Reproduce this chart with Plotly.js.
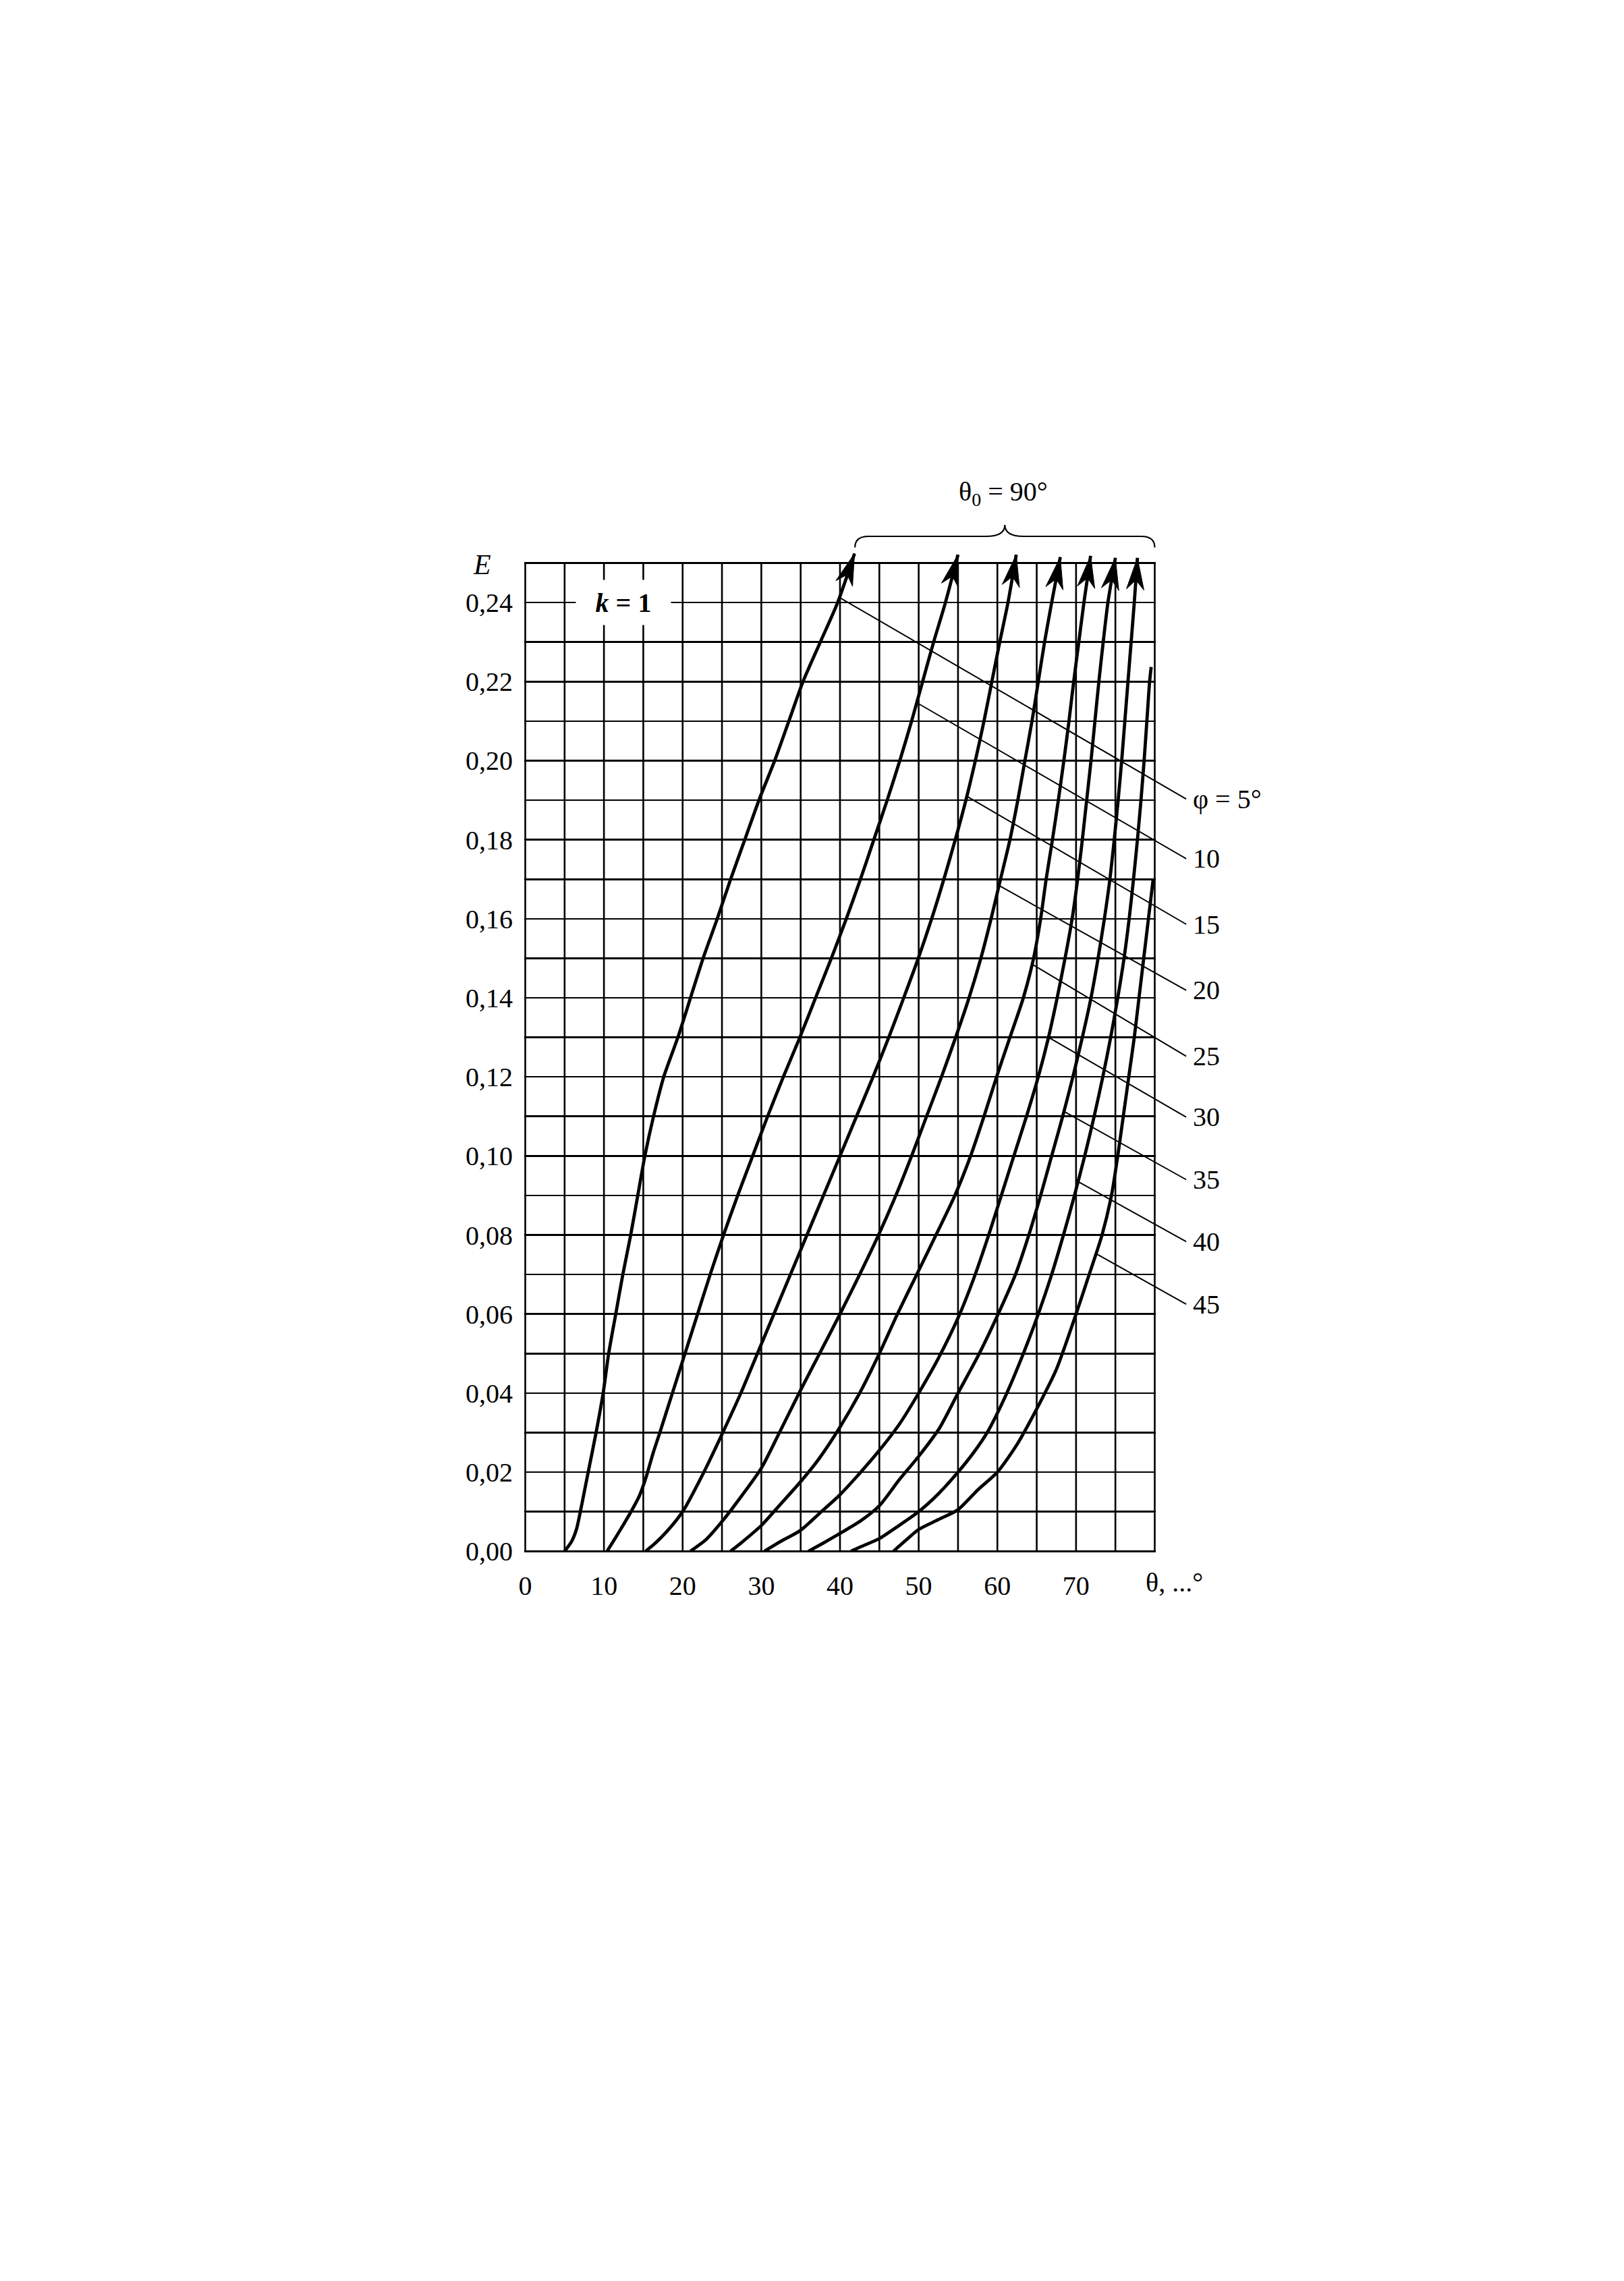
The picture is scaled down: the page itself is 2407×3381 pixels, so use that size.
<!DOCTYPE html>
<html>
<head>
<meta charset="utf-8">
<script src="https://cdn.plot.ly/plotly-3.0.1.min.js"></script>
<style>
  html, body { margin: 0; padding: 0; background: #fff; }
  #chart { width: 2407px; height: 3381px; }
</style>
</head>
<body>
<div id="chart"></div>
<script>
// E versus θ for k = 1, θ0 = 90°; one curve per angle φ

const phiLabels = ['φ = 5°', '10', '15', '20', '25', '30', '35', '40', '45'];

const theta5 = [5.0, 5.9, 6.5, 7.0, 7.5, 8.0, 9.0, 9.9, 10.6, 11.5, 12.4, 13.4, 14.3, 15.2, 16.3, 17.6, 19.4, 21.0, 22.6, 24.4, 26.1, 27.9, 29.7, 31.7, 33.5, 35.3, 37.5, 39.7, 41.85];
const e5     = [0, 0.0025, 0.0055, 0.010, 0.015, 0.020, 0.030, 0.040, 0.050, 0.060, 0.070, 0.080, 0.090, 0.100, 0.110, 0.120, 0.130, 0.140, 0.150, 0.160, 0.170, 0.180, 0.190, 0.200, 0.210, 0.220, 0.230, 0.240, 0.2524];

const theta10 = [10.4, 11.5, 12.5, 13.5, 14.5, 15.4, 16.2, 17.1, 18.7, 20.3, 21.9, 23.5, 25.2, 27.0, 28.9, 30.8, 32.8, 34.9, 36.9, 38.9, 40.8, 42.6, 44.3, 46.0, 47.6, 49.1, 50.5, 51.9, 53.4, 55.0];
const e10     = [0, 0.0035, 0.0068, 0.0102, 0.014, 0.019, 0.0245, 0.030, 0.040, 0.050, 0.060, 0.070, 0.080, 0.090, 0.100, 0.110, 0.120, 0.130, 0.140, 0.150, 0.160, 0.170, 0.180, 0.190, 0.200, 0.210, 0.220, 0.230, 0.240, 0.2521];

const theta15 = [15.3, 16.5, 18.0, 20.0, 22.7, 25.1, 27.4, 29.5, 31.6, 33.7, 35.8, 37.9, 40.0, 42.1, 44.2, 46.2, 48.1, 49.95, 51.65, 53.2, 54.65, 56.0, 57.2, 58.3, 59.3, 60.3, 61.35, 62.4];
const e15     = [0, 0.002, 0.005, 0.010, 0.020, 0.030, 0.040, 0.050, 0.060, 0.070, 0.080, 0.090, 0.100, 0.110, 0.120, 0.130, 0.140, 0.150, 0.160, 0.170, 0.180, 0.190, 0.200, 0.210, 0.220, 0.230, 0.240, 0.2521];

const theta20 = [21.0, 23.0, 25.0, 27.5, 30.0, 32.3, 34.8, 37.4, 40.0, 42.5, 44.9, 47.1, 49.1, 51.0, 52.9, 54.7, 56.4, 57.9, 59.2, 60.4, 61.6, 62.6, 63.5, 64.4, 65.2, 66.0, 66.9, 68.0];
const e20     = [0, 0.003, 0.0075, 0.014, 0.021, 0.030, 0.040, 0.050, 0.060, 0.070, 0.080, 0.090, 0.100, 0.110, 0.120, 0.130, 0.140, 0.150, 0.160, 0.170, 0.180, 0.190, 0.200, 0.210, 0.220, 0.230, 0.240, 0.2515];

const theta25 = [26.1, 27.5, 30.0, 32.4, 35.0, 37.3, 40.0, 42.5, 45.0, 47.3, 50.0, 52.2, 54.6, 56.6, 58.3, 59.9, 61.6, 63.3, 64.6, 65.5, 66.2, 67.0, 67.75, 68.45, 69.1, 69.7, 70.35, 71.0, 71.85];
const e25     = [0, 0.0022, 0.0065, 0.0118, 0.0176, 0.0233, 0.0314, 0.040, 0.050, 0.060, 0.071, 0.080, 0.090, 0.100, 0.110, 0.120, 0.130, 0.140, 0.150, 0.160, 0.170, 0.180, 0.190, 0.200, 0.210, 0.220, 0.230, 0.240, 0.2518];

const theta30 = [30.4, 32.4, 35.0, 37.3, 40.0, 42.5, 45.0, 47.5, 50.0, 52.5, 55.0, 57.0, 58.9, 60.5, 62.1, 63.7, 65.2, 66.5, 67.6, 68.6, 69.5, 70.2, 70.8, 71.35, 71.9, 72.4, 72.9, 73.45, 74.05, 75.0];
const e30     = [0, 0.0024, 0.0053, 0.0094, 0.0143, 0.0197, 0.0255, 0.032, 0.040, 0.0488, 0.059, 0.069, 0.080, 0.090, 0.100, 0.110, 0.120, 0.130, 0.140, 0.150, 0.160, 0.170, 0.180, 0.190, 0.200, 0.210, 0.220, 0.230, 0.240, 0.2513];

const theta35 = [36.0, 38.0, 40.0, 42.5, 45.0, 47.5, 50.0, 52.6, 55.0, 57.7, 60.1, 62.3, 64.0, 65.5, 66.9, 68.3, 69.6, 70.8, 71.9, 72.8, 73.6, 74.3, 74.85, 75.35, 75.8, 76.2, 76.6, 77.0, 77.4, 77.8];
const e35     = [0, 0.0022, 0.0045, 0.0075, 0.0115, 0.018, 0.024, 0.031, 0.040, 0.050, 0.060, 0.070, 0.080, 0.090, 0.100, 0.110, 0.120, 0.130, 0.140, 0.150, 0.160, 0.170, 0.180, 0.190, 0.200, 0.210, 0.220, 0.230, 0.240, 0.2513];

const theta40 = [41.4, 42.5, 45.0, 47.5, 50.0, 52.5, 55.0, 57.0, 58.7, 61.2, 63.3, 65.2, 66.9, 68.4, 69.8, 71.1, 72.3, 73.4, 74.4, 75.3, 76.1, 76.75, 77.3, 77.8, 78.25, 78.65, 79.0, 79.35, 79.55];
const e40     = [0, 0.001, 0.0032, 0.0065, 0.010, 0.0145, 0.020, 0.025, 0.030, 0.040, 0.050, 0.060, 0.070, 0.080, 0.090, 0.100, 0.110, 0.120, 0.130, 0.140, 0.150, 0.160, 0.170, 0.180, 0.190, 0.200, 0.210, 0.220, 0.2237];

const theta45 = [46.8, 48.5, 50.0, 52.5, 55.0, 57.5, 60.0, 62.5, 65.0, 67.5, 70.0, 71.5, 73.3, 74.5, 75.3, 76.0, 76.7, 77.4, 78.0, 78.6, 79.2, 79.8];
const e45     = [0, 0.003, 0.0055, 0.008, 0.0105, 0.0155, 0.020, 0.027, 0.036, 0.046, 0.060, 0.069, 0.080, 0.090, 0.100, 0.110, 0.120, 0.130, 0.140, 0.150, 0.160, 0.170];

// curves whose top end carries an arrow (they continue above the grid)
const hasArrow = [true, true, true, true, true, true, true, false, false];

// points on each curve where its label's leader line starts, and label heights
const leaderTheta = [39.9, 49.9, 56.1, 60.3, 64.4, 66.5, 68.5, 70.25, 72.6];
const leaderE     = [0.2413, 0.2145, 0.191, 0.1683, 0.1485, 0.130, 0.1112, 0.0935, 0.0752];
const labelE      = [0.1903, 0.1752, 0.1586, 0.1419, 0.1252, 0.1098, 0.0940, 0.0783, 0.0625];

// axis ticks
const thetaTickVals = [0, 10, 20, 30, 40, 50, 60, 70];
const thetaTickText = ['0', '10', '20', '30', '40', '50', '60', '70'];
const eTickVals = [0, 0.02, 0.04, 0.06, 0.08, 0.10, 0.12, 0.14, 0.16, 0.18, 0.20, 0.22, 0.24];
const eTickText = ['0,00', '0,02', '0,04', '0,06', '0,08', '0,10', '0,12', '0,14', '0,16', '0,18', '0,20', '0,22', '0,24'];

const thetaCurves = [theta5, theta10, theta15, theta20, theta25, theta30, theta35, theta40, theta45];
const eCurves = [e5, e10, e15, e20, e25, e30, e35, e40, e45];

// ---- page geometry ----
const W = 2407, H = 3381;
const M = { l: 777, r: 694, t: 814, b: 1080 };
const xRange = [-0.13, 80.13];
const yRange = [-0.0003, 0.2535];
const gridTop = 0.25;
const labelTailTheta = 84.0;
const plotW = W - M.l - M.r, plotH = H - M.t - M.b;
const kx = plotW / (xRange[1] - xRange[0]);
const ky = plotH / (yRange[1] - yRange[0]);
const FONT = 'Liberation Serif, Times New Roman, serif';
const INK = '#000';

// horizontal grid every 0.01 up to the top border
const eGridVals = [];
for (let i = 0; i <= 25; i++) eGridVals.push(i / 100);

// filled, notched arrowhead at the last point of a curve, aligned with its last segment
function arrowHead(ts, es) {
  const n = ts.length;
  const tx = ts[n - 1], ty = es[n - 1];
  const dx = (tx - ts[n - 2]) * kx, dy = (ty - es[n - 2]) * ky;
  const len = Math.hypot(dx, dy);
  const ux = dx / len, uy = dy / len, nx = -uy, ny = ux;
  const L = 47, HW = 13, NOTCH = 33;
  const pts = [
    [0, 0],
    [-L * ux + HW * nx, -L * uy + HW * ny],
    [-NOTCH * ux, -NOTCH * uy],
    [-L * ux - HW * nx, -L * uy - HW * ny],
    [0, 0]
  ];
  return { x: pts.map(p => tx + p[0] / kx), y: pts.map(p => ty + p[1] / ky) };
}

const traces = [];
thetaCurves.forEach((ts, i) => {
  traces.push({
    type: 'scatter', mode: 'lines', x: ts, y: eCurves[i],
    line: { color: INK, width: 4.8, shape: 'spline', smoothing: 0.7 },
    hoverinfo: 'skip', showlegend: false
  });
  if (hasArrow[i]) {
    const a = arrowHead(ts, eCurves[i]);
    traces.push({
      type: 'scatter', mode: 'lines', x: a.x, y: a.y, fill: 'toself',
      fillcolor: INK, line: { color: INK, width: 1 },
      hoverinfo: 'skip', showlegend: false
    });
  }
});

// vertical grid lines every 5°, stopping at the top border
const shapes = [];
for (let t = 0; t <= 80; t += 5) {
  shapes.push({
    type: 'line', xref: 'x', yref: 'y', x0: t, x1: t, y0: 0, y1: gridTop,
    line: { color: INK, width: 2.6 }, layer: 'below'
  });
}

// curly brace over the arrow tips
const braceSpan = [41.9, 80];
(function () {
  const plotB = H - M.b;
  const topPx = plotB - (gridTop - yRange[0]) * ky;
  const px = t => (t - xRange[0]) * kx;              // px from plot left
  const X = p => p / plotW;                            // to paper x
  const Y = p => (plotB - p) / plotH;                  // page px to paper y
  const x0 = px(braceSpan[0]), x1 = px(braceSpan[1]), xc = (x0 + x1) / 2;
  const yEnd = topPx - 23, yFlat = topPx - 39.5, yTip = topPx - 56.5;
  const rEnd = 20, rMid = 28;
  const path =
    'M' + X(x0) + ',' + Y(yEnd) +
    ' Q' + X(x0) + ',' + Y(yFlat) + ' ' + X(x0 + rEnd) + ',' + Y(yFlat) +
    ' L' + X(xc - rMid) + ',' + Y(yFlat) +
    ' Q' + X(xc) + ',' + Y(yFlat) + ' ' + X(xc) + ',' + Y(yTip) +
    ' Q' + X(xc) + ',' + Y(yFlat) + ' ' + X(xc + rMid) + ',' + Y(yFlat) +
    ' L' + X(x1 - rEnd) + ',' + Y(yFlat) +
    ' Q' + X(x1) + ',' + Y(yFlat) + ' ' + X(x1) + ',' + Y(yEnd);
  shapes.push({ type: 'path', xref: 'paper', yref: 'paper', path: path,
                line: { color: INK, width: 2.2 }, layer: 'above' });
})();

const annotations = [];
// each φ label with its leader line drawn back to the curve
phiLabels.forEach((lab, i) => {
  annotations.push({
    xref: 'x', yref: 'y', x: leaderTheta[i], y: leaderE[i],
    axref: 'x', ayref: 'y', ax: labelTailTheta, ay: labelE[i],
    xanchor: 'left', yanchor: 'middle', borderpad: 9,
    text: lab, showarrow: true, arrowhead: 0, arrowwidth: 2, arrowcolor: INK,
    standoff: 0, startstandoff: 0,
    font: { family: FONT, size: 40, color: INK }
  });
});

annotations.push(
  { // k = 1 on a white patch interrupting the grid
    xref: 'x', yref: 'y', x: 12.5, y: 0.24, text: '<b><i>k</i> = 1</b>',
    showarrow: false, bgcolor: '#fff', width: 140, height: 66, borderpad: 0,
    font: { family: FONT, size: 40, color: INK }
  },
  { // axis name E
    xref: 'paper', yref: 'paper', x: -0.0673, y: 0.9844, text: '<i>E</i>',
    showarrow: false, xanchor: 'center', yanchor: 'middle',
    font: { family: FONT, size: 42, color: INK }
  },
  { // θ axis name at the 80° position
    xref: 'x', yref: 'paper', x: 80, y: 0, xshift: -15, yshift: -44,
    xanchor: 'left', yanchor: 'middle', text: 'θ, ...°', showarrow: false,
    font: { family: FONT, size: 40, color: INK }
  },
  { // θ0 above the brace
    xref: 'paper', yref: 'paper', x: 0.7585, y: 1.0557, text: 'θ<sub>0</sub> = 90°',
    showarrow: false, xanchor: 'center', yanchor: 'middle',
    font: { family: FONT, size: 40, color: INK }
  }
);

const layout = {
  width: W, height: H, margin: M,
  paper_bgcolor: '#fff', plot_bgcolor: '#fff',
  font: { family: FONT, size: 40, color: INK },
  showlegend: false,
  xaxis: {
    range: xRange, autorange: false, fixedrange: true,
    tickmode: 'array', tickvals: thetaTickVals, ticktext: thetaTickText,
    showgrid: false, zeroline: false, showline: false, ticks: '',
    ticklabelstandoff: 22,
    tickfont: { family: FONT, size: 40, color: INK }
  },
  yaxis: {
    range: yRange, autorange: false, fixedrange: true,
    tickmode: 'array', tickvals: eTickVals, ticktext: eTickText,
    showgrid: true, gridcolor: INK, gridwidth: 2.6,
    minor: { tickmode: 'array', tickvals: eGridVals, showgrid: true,
             gridcolor: INK, gridwidth: 2.6, ticks: '' },
    zeroline: true, zerolinecolor: INK, zerolinewidth: 3,
    showline: false, ticks: '', ticklabelstandoff: 16,
    tickfont: { family: FONT, size: 40, color: INK }
  },
  shapes: shapes,
  annotations: annotations
};

Plotly.newPlot('chart', traces, layout, { displayModeBar: false, staticPlot: true });
</script>
</body>
</html>
